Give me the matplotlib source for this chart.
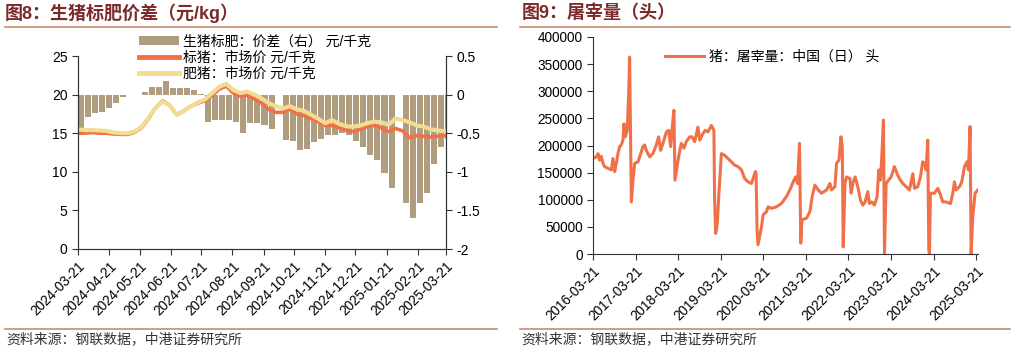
"""Two-panel chart: hog price spread (left) and daily slaughter volume (right)."""

import matplotlib
matplotlib.use("Agg")
import matplotlib.pyplot as plt
import numpy as np
import pandas as pd
from matplotlib.lines import Line2D
from matplotlib.patches import Patch

plt.rcParams["font.family"] = ["Liberation Sans", "Noto Sans CJK SC", "DejaVu Sans"]
plt.rcParams["axes.unicode_minus"] = False

# ---- left panel data (weekly readings) ----
spread_start = "2024-03-21"
std_price = [15.0, 15.0, 15.1, 15.0, 15.0, 14.9, 14.85, 14.85, 15.1, 15.7,
             16.9, 18.3, 19.2, 18.6, 17.4, 17.9, 18.5, 18.9, 19.2, 19.9,
             20.7, 21.1, 20.2, 19.8, 19.9, 19.4, 18.9, 18.1, 17.7, 17.7,
             18.1, 17.5, 17.3, 16.9, 16.5, 16.0, 16.0, 15.7, 15.4, 15.2,
             15.5, 15.9, 16.0, 15.7, 15.2, 15.6, 15.3, 14.4, 14.7, 14.6,
             14.5, 14.6, 14.7, 14.7]
fat_price = [15.5, 15.4, 15.4, 15.35, 15.3, 15.1, 15.0, 15.0, 15.2, 15.8,
             17.0, 18.3, 19.1, 18.6, 17.4, 17.9, 18.5, 19.0, 19.4, 20.2,
             21.0, 21.4, 20.6, 20.2, 20.4, 20.0, 19.5, 18.9, 18.5, 18.2,
             18.5, 18.1, 17.9, 17.4, 16.9, 16.3, 16.7, 16.2, 15.9, 15.85,
             16.0, 16.3, 16.5, 16.4, 16.1, 16.9, 16.7, 16.4, 16.0, 15.85,
             15.5, 15.35, 15.25, 15.3]
spread = [-0.50, -0.29, -0.24, -0.22, -0.18, -0.11, -0.03, -0.01, -0.01, 0.04,
          0.10, 0.10, 0.17, 0.08, 0.08, 0.08, 0.06, 0.01, -0.35, -0.33,
          -0.33, -0.33, -0.35, -0.50, -0.37, -0.37, -0.40, -0.44, np.nan, -0.59,
          -0.60, -0.72, -0.70, -0.61, -0.58, -0.52, -0.52, -0.50, -0.52, -0.60,
          -0.68, -0.78, -0.85, -1.02, -1.21, np.nan, -1.41, -1.60, -1.40, -1.28,
          -0.90, -0.68, -0.58, -0.57]
left_ticks = ["2024-03-21", "2024-04-21", "2024-05-21", "2024-06-21", "2024-07-21",
              "2024-08-21", "2024-09-21", "2024-10-21", "2024-11-21", "2024-12-21",
              "2025-01-21", "2025-02-21", "2025-03-21"]

# ---- right panel data (readings at turning points) ----
slaughter_dates = [
    "2016-03-21", "2016-04-19", "2016-05-03", "2016-05-17", "2016-05-31", "2016-06-15",
    "2016-06-29", "2016-07-28", "2016-08-25", "2016-09-08", "2016-09-23", "2016-10-07",
    "2016-10-21", "2016-11-05", "2016-11-19", "2016-12-03", "2016-12-12", "2016-12-23",
    "2017-01-09", "2017-01-21", "2017-01-29", "2017-02-13", "2017-02-27", "2017-03-13",
    "2017-04-11", "2017-05-04", "2017-05-24", "2017-06-07", "2017-06-21", "2017-07-20",
    "2017-08-17", "2017-09-15", "2017-10-05", "2017-10-22", "2017-11-11", "2017-12-10",
    "2017-12-30", "2018-01-16", "2018-01-27", "2018-02-13", "2018-02-22", "2018-03-08",
    "2018-03-25", "2018-04-17", "2018-05-10", "2018-05-30", "2018-06-28", "2018-07-18",
    "2018-08-10", "2018-09-07", "2018-09-22", "2018-10-20", "2018-11-09", "2018-12-02",
    "2018-12-31", "2019-01-22", "2019-01-28", "2019-02-06", "2019-02-20", "2019-03-06",
    "2019-03-27", "2019-04-24", "2019-06-06", "2019-07-19", "2019-08-17", "2019-09-15",
    "2019-10-13", "2019-11-11", "2019-12-10", "2020-01-13", "2020-01-19", "2020-01-27",
    "2020-02-04", "2020-02-18", "2020-03-05", "2020-03-19", "2020-04-17", "2020-05-01",
    "2020-05-29", "2020-07-11", "2020-08-23", "2020-10-05", "2020-11-03", "2020-12-02",
    "2020-12-22", "2021-01-08", "2021-01-25", "2021-02-05", "2021-02-15", "2021-03-26",
    "2021-04-24", "2021-05-14", "2021-06-06", "2021-07-05", "2021-08-02", "2021-09-14",
    "2021-10-13", "2021-10-27", "2021-11-25", "2021-12-09", "2021-12-29", "2022-01-15",
    "2022-01-27", "2022-02-04", "2022-02-19", "2022-03-05", "2022-04-03", "2022-04-13",
    "2022-04-27", "2022-05-17", "2022-06-09", "2022-07-02", "2022-07-22", "2022-08-11",
    "2022-09-03", "2022-09-17", "2022-10-07", "2022-10-30", "2022-11-22", "2022-12-06",
    "2022-12-20", "2023-01-01", "2023-01-15", "2023-01-24", "2023-02-07", "2023-02-27",
    "2023-03-22", "2023-04-19", "2023-05-12", "2023-06-01", "2023-06-30", "2023-07-28",
    "2023-08-26", "2023-09-24", "2023-10-08", "2023-11-05", "2023-11-28", "2023-12-18",
    "2024-01-02", "2024-01-16", "2024-01-30", "2024-02-08", "2024-02-14", "2024-02-22",
    "2024-03-05", "2024-03-27", "2024-04-25", "2024-05-18", "2024-06-07", "2024-07-05",
    "2024-08-12", "2024-09-01", "2024-09-15", "2024-09-29", "2024-10-28", "2024-11-17",
    "2024-12-10", "2025-01-01", "2025-01-13", "2025-01-27", "2025-02-05", "2025-02-19",
    "2025-03-11", "2025-04-03"]
slaughter = [
    176000, 179000, 185000, 173000, 180000, 167000,
    161000, 158000, 155000, 176000, 152000, 167000,
    185000, 198000, 201000, 210000, 240000, 216000,
    228000, 296000, 363000, 96000, 136000, 167000,
    170000, 185000, 198000, 201000, 191000, 179000,
    185000, 201000, 216000, 191000, 204000, 225000,
    228000, 198000, 228000, 265000, 136000, 155000,
    179000, 204000, 195000, 207000, 216000, 216000,
    207000, 234000, 210000, 222000, 228000, 225000,
    237000, 228000, 100000, 38000, 56000, 112000,
    185000, 182000, 173000, 164000, 161000, 155000,
    139000, 133000, 130000, 152000, 148000, 44000,
    17000, 32000, 50000, 72000, 78000, 87000,
    84000, 87000, 93000, 106000, 118000, 133000,
    142000, 130000, 204000, 20000, 63000, 66000,
    78000, 106000, 127000, 118000, 112000, 118000,
    130000, 118000, 124000, 167000, 173000, 216000,
    198000, 13000, 130000, 142000, 139000, 112000,
    130000, 142000, 124000, 99000, 90000, 96000,
    115000, 93000, 96000, 90000, 106000, 155000,
    136000, 179000, 247000, 1000, 130000, 136000,
    142000, 161000, 148000, 139000, 130000, 124000,
    118000, 148000, 121000, 124000, 142000, 170000,
    167000, 155000, 210000, 7000, 0, 112000,
    112000, 112000, 121000, 109000, 96000, 96000,
    93000, 112000, 133000, 118000, 124000, 133000,
    161000, 170000, 155000, 235000, 0, 69000,
    112000, 118000]
right_ticks = [f"{y}-03-21" for y in range(2016, 2026)]

BAR_C = "#b09c7e"
ORANGE = "#f07148"
YELLOW = "#f2dc92"
TITLE_C = "#7b2b2b"
RULE_C = "#c98a72"
AXIS_C = "#333333"

fig = plt.figure(figsize=(10.17, 3.51), dpi=100)
W, H = 1017.0, 351.0


def fx(px):
    return px / W


def fy(py):
    return 1 - py / H


def style_axis(ax):
    ax.tick_params(direction="out", length=4, width=0.8, colors=AXIS_C, labelsize=10,
                   labelcolor="black")
    for s in ax.spines.values():
        s.set_color(AXIS_C)
        s.set_linewidth(0.8)


# ---------------- left panel ----------------
ax = fig.add_axes([fx(78), fy(249), fx(446 - 78), fy(56) - fy(249)])
ax2 = ax.twinx()
week_dates = pd.date_range(spread_start, periods=len(spread), freq="7D")
ax2.bar(week_dates, spread, width=6.0, align="edge", color=BAR_C, linewidth=0)
ax2.set_ylim(-2, 0.5)
ax2.set_yticks([0.5, 0, -0.5, -1, -1.5, -2])
ax2.set_yticklabels(["0.5", "0", "-0.5", "-1", "-1.5", "-2"])

ax.plot(week_dates, std_price, color=ORANGE, lw=2.6, solid_capstyle="round")
ax.plot(week_dates, fat_price, color=YELLOW, lw=3.0, solid_capstyle="round")
ax.set_zorder(ax2.get_zorder() + 1)
ax.patch.set_visible(False)
ax.set_ylim(0, 25)
ax.set_yticks([0, 5, 10, 15, 20, 25])
lt = pd.to_datetime(left_ticks)
ax.set_xlim(lt[0], lt[-1])
ax.set_xticks(lt)
ax.set_xticklabels(left_ticks, rotation=45, ha="right", rotation_mode="anchor")
for a in (ax, ax2):
    style_axis(a)
    a.spines["top"].set_visible(False)
ax.tick_params(axis="x", labelsize=9.8)

handles = [Patch(facecolor=BAR_C, edgecolor="none"),
           Line2D([], [], color=ORANGE, lw=3.5),
           Line2D([], [], color=YELLOW, lw=3.5)]
labels = ["生猪标肥：价差（右） 元/千克", "标猪：市场价 元/千克", "肥猪：市场价 元/千克"]
fig.legend(handles, labels, loc="upper left", bbox_to_anchor=(fx(129), fy(25)),
           frameon=False, fontsize=10, handlelength=2.9, handleheight=0.6,
           handletextpad=0.3, labelspacing=0.15, borderpad=0.2)

# ---------------- right panel ----------------
bx = fig.add_axes([fx(593), fy(254), fx(978 - 593), fy(37) - fy(254)])
bx.plot(pd.to_datetime(slaughter_dates), slaughter, color=ORANGE, lw=2.2,
        label="猪：屠宰量：中国（日） 头")
bx.set_ylim(0, 400000)
bx.set_yticks(range(0, 400001, 50000))
rt = pd.to_datetime(right_ticks)
bx.set_xlim(rt[0], pd.Timestamp("2025-04-05"))
bx.set_xticks(rt)
bx.set_xticklabels(right_ticks, rotation=45, ha="right", rotation_mode="anchor")
style_axis(bx)
bx.tick_params(axis="x", labelsize=9.8)
bx.tick_params(axis="y", labelsize=9.8)
bx.spines["top"].set_visible(False)
bx.spines["right"].set_visible(False)
bx.legend(loc="upper left", bbox_to_anchor=(fx(657 - 593) / fx(385), 0.98),
          frameon=False, fontsize=10, handlelength=2.8, handletextpad=0.35,
          borderpad=0.1)

# ---------------- titles, rules, source ----------------
fig.text(fx(5), fy(13), "图8：生猪标肥价差（元/kg）", color=TITLE_C, fontsize=13,
         fontweight="bold", va="center", ha="left")
fig.text(fx(522), fy(13), "图9：屠宰量（头）", color=TITLE_C, fontsize=13,
         fontweight="bold", va="center", ha="left")
for x0, x1 in ((5, 497), (520, 1010)):
    for yy in (27, 329):
        fig.add_artist(Line2D([fx(x0), fx(x1)], [fy(yy), fy(yy)], color=RULE_C, lw=1.2))
    fig.text(fx(x0 + 1), fy(339), "资料来源：钢联数据，中港证券研究所", fontsize=10,
             style="italic", color="#333333", va="center", ha="left")

fig.savefig("out.png", dpi=100)
